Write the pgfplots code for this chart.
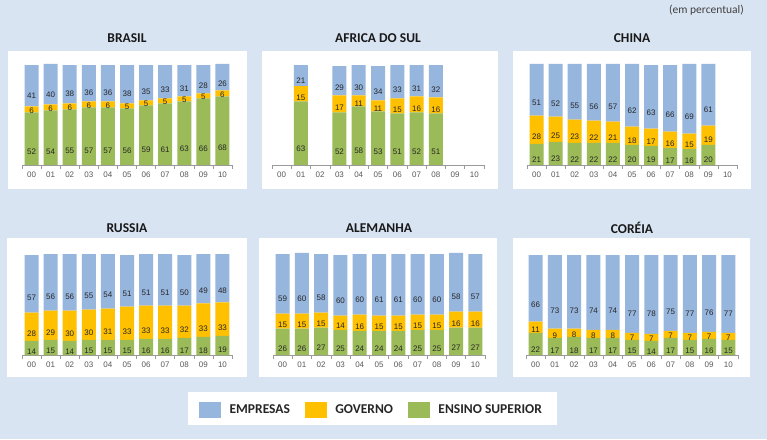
\documentclass[border=0pt]{standalone}
\usepackage{pgfplots}
\pgfplotsset{compat=1.18}
\usepackage{pgfplotstable}
\usepackage{fontspec}
\setmainfont{Carlito}
\newfontfamily\arialf{Liberation Sans}
\definecolor{bg}{HTML}{D9E4F3}
\definecolor{emp}{HTML}{97B6DE}
\definecolor{gov}{HTML}{FFC000}
\definecolor{ens}{HTML}{9BBB59}
\definecolor{axgray}{HTML}{9A9A9A}
\definecolor{lblgray}{HTML}{595959}
\definecolor{valc}{HTML}{262626}

\pgfplotstableread{
x g y b
0 52 6 41
1 54 6 40
2 55 6 38
3 57 6 36
4 57 6 36
5 56 5 38
6 59 5 35
7 61 5 33
8 63 5 31
9 66 5 28
10 68 6 26
}\brasil
\pgfplotstableread{
x g y b
1 63 15 21
3 52 17 29
4 58 11 30
5 53 11 34
6 51 15 33
7 52 16 31
8 51 16 32
}\africa
\pgfplotstableread{
x g y b
0 21 28 51
1 23 25 52
2 22 23 55
3 22 22 56
4 22 21 57
5 20 18 62
6 19 17 63
7 17 16 66
8 16 15 69
9 20 19 61
}\china
\pgfplotstableread{
x g y b
0 14 28 57
1 15 29 56
2 14 30 56
3 15 30 55
4 15 31 54
5 15 33 51
6 16 33 51
7 16 33 51
8 17 32 50
9 18 33 49
10 19 33 48
}\russia
\pgfplotstableread{
x g y b
0 26 15 59
1 26 15 60
2 27 15 58
3 25 14 60
4 24 16 60
5 24 15 61
6 24 15 61
7 25 15 60
8 25 15 60
9 27 16 58
10 27 16 57
}\alemanha
\pgfplotstableread{
x g y b
0 22 11 66
1 17 9 73
2 18 8 73
3 17 8 74
4 17 8 74
5 15 7 77
6 14 7 78
7 17 7 75
8 15 7 77
9 16 7 76
10 15 7 77
}\coreia

\pgfplotsset{
  panel/.style={
    scale only axis, width=#1, height=101pt,
    ymin=0, ymax=100, xmin=-0.5, xmax=10.5,
    enlarge x limits=false, enlarge y limits=false,
    ybar stacked, bar width=14pt,
    axis y line=none, axis x line*=bottom,
    x axis line style={draw=axgray, line width=0.6pt},
    xtick={0,...,10},
    xticklabels={00,01,02,03,04,05,06,07,08,09,10},
    minor xtick={-0.5,0.5,...,10.5},
    major tick length=0pt, minor tick length=4pt, tick align=outside,
    minor tick style={draw=axgray, line width=0.6pt},
    xticklabel style={font=\arialf\fontsize{8}{9}\selectfont, text=lblgray, yshift=-3.5pt},
    title style={font=\bfseries\fontsize{13.5}{15}\selectfont, text=black!90, at={(0.5,1)}, anchor=center, yshift=20pt},
    point meta=explicit symbolic,
    nodes near coords={\pgfplotspointmeta},
    nodes near coords align=center,
    every node near coord/.append style={font=\arialf\fontsize{8}{9}\selectfont, text=valc, inner sep=0pt, anchor=center, yshift={-\pgfplotspointmeta*0.2525pt}},
    clip=false,
  },
}
\newcommand\stackbars[1]{%
  \addplot[fill=ens, draw=none] table[x=x, y=g, meta=g] {#1};
  \addplot[fill=gov, draw=none] table[x=x, y=y, meta=y] {#1};
  \addplot[fill=emp, draw=none] table[x=x, y=b, meta=b] {#1};
}

\begin{document}
\begin{tikzpicture}
\fill[bg] (0,0) rectangle (767pt,439pt);
\fill[white] (8pt,250pt) rectangle (247pt,388pt);
\fill[white] (262pt,250pt) rectangle (498pt,388pt);
\fill[white] (513pt,250pt) rectangle (751pt,388pt);
\fill[white] (7pt,62pt) rectangle (247pt,201pt);
\fill[white] (259pt,62pt) rectangle (497pt,201pt);
\fill[white] (513pt,62pt) rectangle (750pt,201pt);
\fill[white] (188pt,14pt) rectangle (557pt,47pt);
\node[anchor=east, inner sep=0pt, font=\fontsize{11.5}{13}\selectfont, text=black!75] at (744pt,428.5pt) {(em percentual)};

\begin{axis}[panel=210pt, at={(22pt,274pt)}, anchor=south west, title={BRASIL}]
\stackbars{\brasil}
\end{axis}
\begin{axis}[panel=212pt, at={(272pt,274pt)}, anchor=south west, title={AFRICA DO SUL}]
\stackbars{\africa}
\end{axis}
\begin{axis}[panel=210pt, at={(527pt,274pt)}, anchor=south west, title={CHINA}]
\stackbars{\china}
\end{axis}
\begin{axis}[panel=210pt, at={(22pt,84pt)}, anchor=south west, title={RUSSIA}]
\stackbars{\russia}
\end{axis}
\begin{axis}[panel=212pt, at={(273pt,84pt)}, anchor=south west, title={ALEMANHA}]
\stackbars{\alemanha}
\end{axis}
\begin{axis}[panel=212pt, at={(526pt,84pt)}, anchor=south west, title={CORÉIA}]
\stackbars{\coreia}
\end{axis}
% legend only
\begin{axis}[scale only axis, width=212pt, height=101pt, at={(273pt,84pt)}, anchor=south west,
  hide axis, xmin=0, xmax=1, ymin=0, ymax=1,
  legend columns=3,
  legend style={at={(-0.3491,-0.5396)}, anchor=west, draw=none, fill=none, inner sep=0pt,
    font=\bfseries\fontsize{13.5}{15}\selectfont, text=black!85,
    nodes={inner sep=0pt},
    /tikz/every odd column/.append style={column sep=9pt},
    /tikz/every even column/.append style={column sep=15pt}}]
\addlegendimage{legend image code/.code={\fill[emp] (0pt,-7.5pt) rectangle (21pt,7.5pt);}}
\addlegendentry{EMPRESAS}
\addlegendimage{legend image code/.code={\fill[gov] (0pt,-7.5pt) rectangle (21pt,7.5pt);}}
\addlegendentry{GOVERNO}
\addlegendimage{legend image code/.code={\fill[ens] (0pt,-7.5pt) rectangle (21pt,7.5pt);}}
\addlegendentry{ENSINO SUPERIOR}
\end{axis}
\end{tikzpicture}
\end{document}
